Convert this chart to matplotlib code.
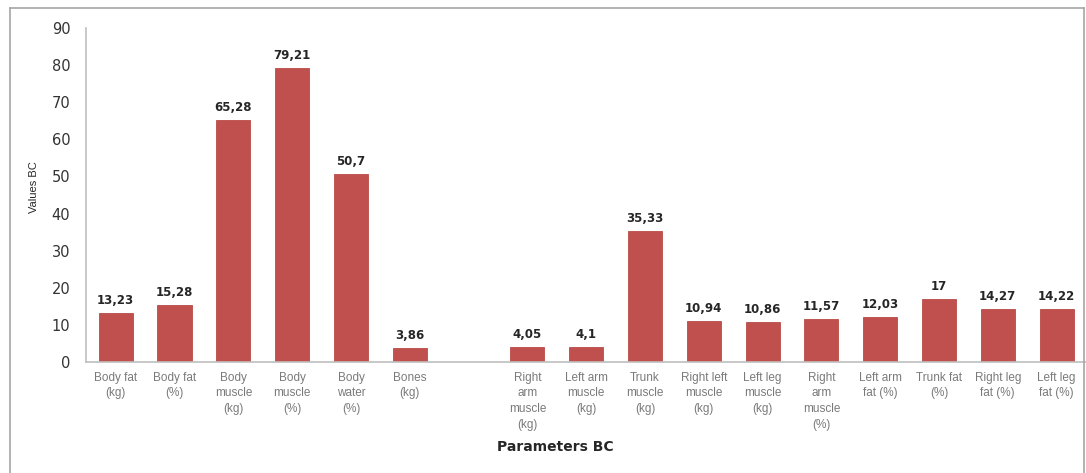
import numpy as np
import matplotlib
matplotlib.use("Agg")
import matplotlib.pyplot as plt
from matplotlib.lines import Line2D

# data (empty slot between whole-body and segment values)
categories = ["Body fat\n(kg)", "Body fat\n(%)", "Body\nmuscle\n(kg)", "Body\nmuscle\n(%)",
              "Body\nwater\n(%)", "Bones\n(kg)", "",
              "Right\narm\nmuscle\n(kg)", "Left arm\nmuscle\n(kg)", "Trunk\nmuscle\n(kg)",
              "Right left\nmuscle\n(kg)", "Left leg\nmuscle\n(kg)", "Right\narm\nmuscle\n(%)",
              "Left arm\nfat (%)", "Trunk fat\n(%)", "Right leg\nfat (%)", "Left leg\nfat (%)"]
values = [13.23, 15.28, 65.28, 79.21, 50.7, 3.86, None,
          4.05, 4.1, 35.33, 10.94, 10.86, 11.57, 12.03, 17, 14.27, 14.22]
value_labels = ["13,23", "15,28", "65,28", "79,21", "50,7", "3,86", "",
                "4,05", "4,1", "35,33", "10,94", "10,86", "11,57", "12,03", "17", "14,27", "14,22"]
yticks = [0, 10, 20, 30, 40, 50, 60, 70, 80, 90]

bar_color = "#C0504D"

fig = plt.figure(figsize=(10.86, 4.73), dpi=100)
ax = fig.add_axes([0.0795, 0.2347, 0.9205, 0.7061])

x = np.arange(len(categories))
heights = [v if v is not None else 0 for v in values]
bars = ax.bar(x, heights, 0.58, color=bar_color, edgecolor="#B94A47", linewidth=0.6)
for rect, v, lab in zip(bars, values, value_labels):
    if v is None:
        rect.set_visible(False)
        continue
    ax.text(rect.get_x() + rect.get_width() / 2., v + 1.6, lab, ha="center", va="bottom",
            fontsize=8.5, fontweight="bold", color="#262626", family="DejaVu Sans")

ax.set_xlim(-0.5, len(categories) - 0.5)
ax.set_ylim(0, 90)
ax.set_yticks(yticks)
ax.set_yticklabels([str(t) for t in yticks], fontsize=10.5, color="#333333", family="DejaVu Sans")
ax.set_xticks(x)
ax.set_xticklabels(categories, fontsize=8.5, color="#7a7a7a", family="Liberation Sans",
                   linespacing=1.4, va="top")
ax.tick_params(axis="both", length=0)
ax.tick_params(axis="y", pad=11.5)
ax.tick_params(axis="x", pad=7)

for s in ["top", "right"]:
    ax.spines[s].set_visible(False)
for s in ["left", "bottom"]:
    ax.spines[s].set_color("#bfbfbf")
    ax.spines[s].set_linewidth(1.2)

fig.text(0.031, 0.605, "Values BC", rotation=90, ha="center", va="center",
         fontsize=8, color="#262626", family="Liberation Sans")
fig.text(0.511, 0.055, "Parameters BC", ha="center", va="center",
         fontsize=10, fontweight="bold", color="#262626", family="DejaVu Sans")

# outer frame
fc = "#a6a6a6"
fig.add_artist(Line2D([0.0092, 0.0092], [0.0, 0.983], transform=fig.transFigure, color=fc, lw=1.2))
fig.add_artist(Line2D([0.0092, 0.998], [0.983, 0.983], transform=fig.transFigure, color=fc, lw=1.2))
fig.add_artist(Line2D([0.998, 0.998], [0.0, 0.983], transform=fig.transFigure, color=fc, lw=1.2))

fig.savefig("out.png", dpi=100)
